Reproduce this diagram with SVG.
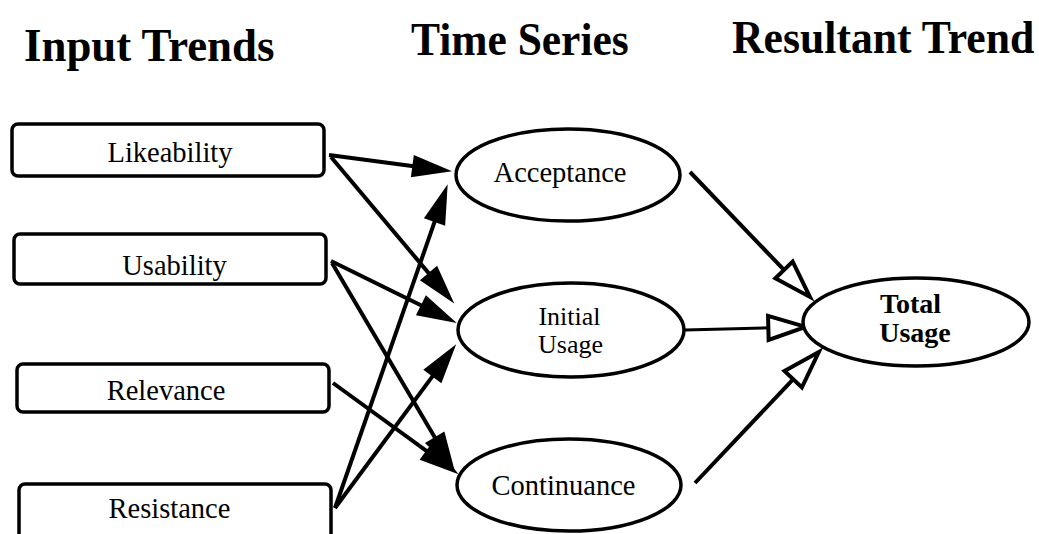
<svg xmlns="http://www.w3.org/2000/svg" width="1039" height="534" viewBox="0 0 1039 534">
  <style>
    .hdr { font-family: "Liberation Serif", "Times New Roman", serif; font-weight: bold; font-size: 46px; fill: #000; }
    .lbl { font-family: "Liberation Serif", "Times New Roman", serif; font-size: 28.5px; fill: #000; text-anchor: middle; }
    .lbl-s { font-size: 26px; }
    .lbl-b { font-family: "Liberation Serif", "Times New Roman", serif; font-weight: bold; font-size: 28px; fill: #000; text-anchor: middle; }
    .box { fill: #fff; stroke: #000; stroke-width: 3.5; }
    .oval { fill: #fff; stroke: #000; stroke-width: 3.5; }
    .feed { fill: none; stroke: #000; stroke-width: 4; marker-end: url(#solid); }
    .sum { fill: none; stroke: #000; stroke-width: 4; marker-end: url(#hollow); }
    .sum-thin { stroke-width: 3; }
  </style>
  <defs>
    <marker id="solid" markerUnits="userSpaceOnUse" markerWidth="40" markerHeight="40" viewBox="0 0 32 18" refX="24" refY="9" orient="auto" overflow="visible">
      <path d="M0,0 L32,9 L0,18 Z" fill="#000"/>
    </marker>
    <marker id="hollow" markerUnits="userSpaceOnUse" markerWidth="40" markerHeight="40" viewBox="0 0 30 20" refX="20" refY="10" orient="auto" overflow="visible">
      <path d="M0,1 L28,10 L0,19 Z" fill="#fff" stroke="#000" stroke-width="3" stroke-linejoin="miter"/>
    </marker>
  </defs>

  <rect width="1039" height="534" fill="#fff"/>

  <!-- column headings (condensed bold serif) -->
  <g id="headings">
    <text class="hdr" transform="translate(24,61) scale(0.975,1)">Input Trends</text>
    <text class="hdr" transform="translate(411,55) scale(0.945,1)">Time Series</text>
    <text class="hdr" transform="translate(732,53) scale(0.95,1)">Resultant Trend</text>
  </g>

  <!-- connectors -->
  <g id="connectors">
    <line class="feed" x1="329" y1="155" x2="442.1" y2="170"/>
    <line class="feed" x1="331" y1="157" x2="447.8" y2="295.9"/>
    <line class="feed" x1="331" y1="261" x2="447.8" y2="318.5"/>
    <line class="feed" x1="332" y1="263" x2="449.9" y2="463.1"/>
    <line class="feed" x1="333" y1="383" x2="450.5" y2="468.3"/>
    <line class="feed" x1="335" y1="508" x2="444.4" y2="193.6"/>
    <line class="feed" x1="335" y1="508" x2="450.2" y2="352.4"/>
    <line class="sum" x1="690" y1="172" x2="802.5" y2="289.2"/>
    <line class="sum sum-thin" x1="685" y1="330" x2="795" y2="327.2"/>
    <line class="sum" x1="695" y1="483" x2="811.5" y2="359.8"/>
  </g>

  <!-- input trends -->
  <g id="likeability">
    <rect class="box" x="12" y="124" width="312" height="52" rx="6"/>
    <text class="lbl" x="170" y="162">Likeability</text>
  </g>
  <g id="usability">
    <rect class="box" x="14" y="234" width="312" height="50" rx="6"/>
    <text class="lbl" x="174.5" y="275">Usability</text>
  </g>
  <g id="relevance">
    <rect class="box" x="17" y="364" width="312" height="48" rx="6"/>
    <text class="lbl" x="166" y="400">Relevance</text>
  </g>
  <g id="resistance">
    <rect class="box" x="19" y="484" width="312" height="62" rx="6"/>
    <text class="lbl" x="169.5" y="518">Resistance</text>
  </g>

  <!-- time series -->
  <g id="acceptance">
    <ellipse class="oval" cx="568" cy="175" rx="112" ry="46"/>
    <text class="lbl" x="560" y="182">Acceptance</text>
  </g>
  <g id="initial-usage">
    <ellipse class="oval" cx="571" cy="330" rx="113" ry="47"/>
    <text class="lbl lbl-s" x="569.5" y="325">Initial</text>
    <text class="lbl lbl-s" x="570.5" y="353">Usage</text>
  </g>
  <g id="continuance">
    <ellipse class="oval" cx="569" cy="485" rx="112" ry="46"/>
    <text class="lbl" x="563.5" y="495">Continuance</text>
  </g>

  <!-- resultant trend -->
  <g id="total-usage">
    <ellipse class="oval" cx="916" cy="322" rx="113" ry="44"/>
    <text class="lbl-b" x="910.5" y="313">Total</text>
    <text class="lbl-b" x="915" y="342">Usage</text>
  </g>
</svg>
